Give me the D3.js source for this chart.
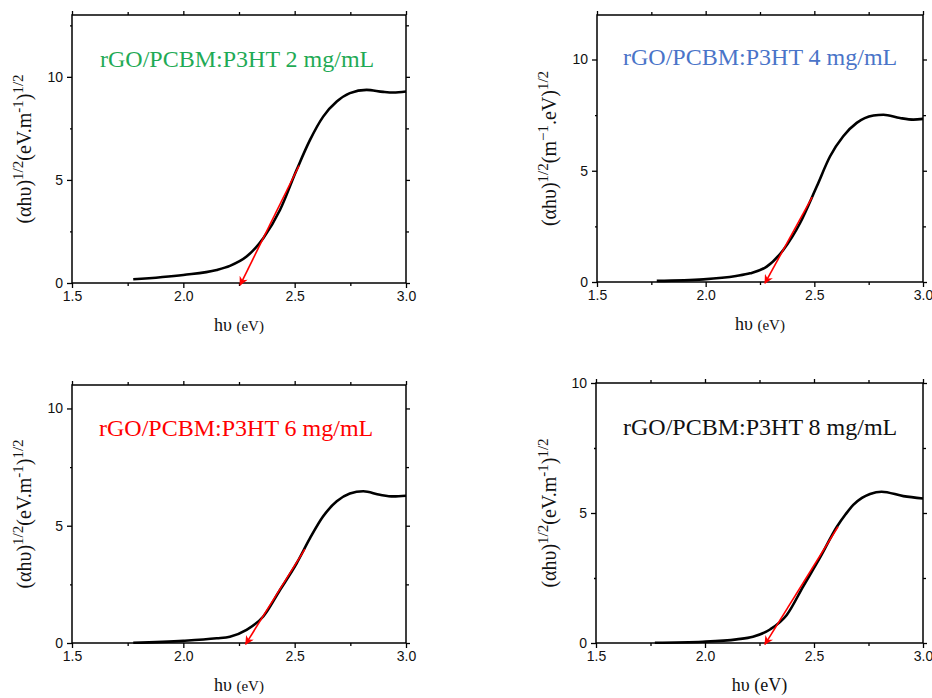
<!DOCTYPE html>
<html>
<head>
<meta charset="utf-8">
<script src="https://cdn.jsdelivr.net/npm/d3@7"></script>
<style>
  body { margin: 0; background: #fff; }
  svg { display: block; }
  .tick text { font-family: Arial, "Liberation Sans", sans-serif; font-size: 14px; fill: #111; }
  .axis path, .axis line { stroke: #000; stroke-width: 1.3px; }
</style>
</head>
<body>
<div id="chart"></div>
<script>
// data (photon energy in eV vs (alpha h nu)^1/2)
var energy1 = [1.775, 2.0, 2.15, 2.209, 2.284, 2.359, 2.434, 2.509, 2.569, 2.628, 2.689, 2.748, 2.823, 2.898, 2.943, 3.0];
var value1  = [0.18, 0.39, 0.63, 0.83, 1.28, 2.17, 3.54, 5.49, 6.94, 8.07, 8.80, 9.21, 9.37, 9.27, 9.24, 9.29];

var energy2 = [1.775, 1.99, 2.14, 2.204, 2.281, 2.357, 2.434, 2.511, 2.572, 2.633, 2.695, 2.772, 2.818, 2.894, 2.956, 3.0];
var value2  = [0.05, 0.12, 0.27, 0.39, 0.69, 1.44, 2.64, 4.29, 5.64, 6.55, 7.15, 7.48, 7.52, 7.37, 7.30, 7.33];

var energy3 = [1.775, 2.0, 2.15, 2.209, 2.284, 2.359, 2.434, 2.509, 2.569, 2.628, 2.689, 2.748, 2.808, 2.883, 2.943, 3.0];
var value3  = [0.01, 0.09, 0.20, 0.27, 0.56, 1.13, 2.26, 3.40, 4.47, 5.40, 6.04, 6.37, 6.47, 6.32, 6.25, 6.28];

var energy4 = [1.77, 1.99, 2.145, 2.22, 2.30, 2.375, 2.45, 2.53, 2.605, 2.645, 2.68, 2.72, 2.757, 2.81, 2.91, 3.0];
var value4  = [0.01, 0.05, 0.14, 0.24, 0.53, 1.08, 2.17, 3.32, 4.47, 4.95, 5.31, 5.58, 5.73, 5.82, 5.65, 5.56];

// tangent lines (start point, arrow tip on the energy axis)
var tangentX1 = [2.52, 2.255], tangentY1 = [5.7, -0.1];
var tangentX2 = [2.49, 2.273], tangentY2 = [3.81, -0.05];
var tangentX3 = [2.546, 2.28], tangentY3 = [4.0, -0.05];
var tangentX4 = [2.61, 2.275], tangentY4 = [4.47, -0.05];

var titles = ["rGO/PCBM:P3HT 2 mg/mL", "rGO/PCBM:P3HT 4 mg/mL", "rGO/PCBM:P3HT 6 mg/mL", "rGO/PCBM:P3HT 8 mg/mL"];
var titleColors = ["#1faa55", "#4a74c8", "#ff0000", "#111111"];
var yMaxes = [13, 12, 11, 10];
var xTicks = [1.5, 2.0, 2.5, 3.0];
var xMinor = [1.75, 2.25, 2.75];
var yTicks = [0, 5, 10];
var yUnits = ["eV.m", "m", "eV.m", "eV.m"];

var series = [
  {e: energy1, v: value1, tx: tangentX1, ty: tangentY1},
  {e: energy2, v: value2, tx: tangentX2, ty: tangentY2},
  {e: energy3, v: value3, tx: tangentX3, ty: tangentY3},
  {e: energy4, v: value4, tx: tangentX4, ty: tangentY4}
];

// panel boxes in pixels
var boxes = [
  {left: 72,  right: 406, top: 15,  bottom: 283, labX: 24,  titleX: 100, titleY: 67},
  {left: 597, right: 923, top: 15,  bottom: 282, labX: 549, titleX: 623, titleY: 65},
  {left: 72,  right: 406, top: 385, bottom: 643, labX: 24,  titleX: 99,  titleY: 436},
  {left: 596, right: 923, top: 383, bottom: 643, labX: 549, titleX: 623, titleY: 435}
];

var svg = d3.select("#chart").append("svg")
    .attr("width", 932)
    .attr("height", 698);

var defs = svg.append("defs");
defs.append("marker")
    .attr("id", "arrow")
    .attr("viewBox", "0 0 10 10")
    .attr("refX", 9)
    .attr("refY", 5)
    .attr("markerWidth", 11)
    .attr("markerHeight", 9)
    .attr("markerUnits", "userSpaceOnUse")
    .attr("orient", "auto")
  .append("path")
    .attr("d", "M0,0 L10,5 L0,10 L3,5 Z")
    .attr("fill", "#ff0000");

boxes.forEach(function(b, i) {
    var x = d3.scaleLinear().domain([1.5, 3.0]).range([b.left, b.right]);
    var y = d3.scaleLinear().domain([0, yMaxes[i]]).range([b.bottom, b.top]);

    var yMinor = d3.range(2.5, yMaxes[i], 5);

    var g = svg.append("g");

    // minor ticks (all four sides)
    g.append("g").attr("class", "axis")
        .attr("transform", "translate(0," + b.bottom + ")")
        .call(d3.axisBottom(x).tickValues(xMinor).tickSize(3).tickFormat(""));
    g.append("g").attr("class", "axis")
        .attr("transform", "translate(0," + b.top + ")")
        .call(d3.axisTop(x).tickValues(xMinor).tickSize(3).tickFormat(""));
    g.append("g").attr("class", "axis")
        .attr("transform", "translate(" + b.left + ",0)")
        .call(d3.axisLeft(y).tickValues(yMinor).tickSize(2).tickFormat(""));
    g.append("g").attr("class", "axis")
        .attr("transform", "translate(" + b.right + ",0)")
        .call(d3.axisRight(y).tickValues(yMinor).tickSize(3).tickFormat(""));

    // major ticks
    g.append("g").attr("class", "axis")
        .attr("transform", "translate(0," + b.bottom + ")")
        .call(d3.axisBottom(x).tickValues(xTicks).tickSize(5).tickPadding(3).tickFormat(d3.format(".1f")));
    g.append("g").attr("class", "axis")
        .attr("transform", "translate(0," + b.top + ")")
        .call(d3.axisTop(x).tickValues(xTicks).tickSize(4).tickFormat(""));
    g.append("g").attr("class", "axis")
        .attr("transform", "translate(" + b.left + ",0)")
        .call(d3.axisLeft(y).tickValues(yTicks).tickSize(5).tickPadding(4).tickFormat(d3.format("d")));
    g.append("g").attr("class", "axis")
        .attr("transform", "translate(" + b.right + ",0)")
        .call(d3.axisRight(y).tickValues(yTicks).tickSize(4).tickFormat(""));

    g.selectAll(".axis .domain").remove();

    // frame
    g.append("rect")
        .attr("x", b.left).attr("y", b.top)
        .attr("width", b.right - b.left).attr("height", b.bottom - b.top)
        .attr("fill", "none").attr("stroke", "#000").attr("stroke-width", 1.5);

    var s = series[i];
    var pts = s.e.map(function(e, k) { return [e, s.v[k]]; });

    var line = d3.line()
        .x(function(d) { return x(d[0]); })
        .y(function(d) { return y(d[1]); })
        .curve(d3.curveMonotoneX);

    g.append("path")
        .datum(pts)
        .attr("d", line)
        .attr("fill", "none")
        .attr("stroke", "#000")
        .attr("stroke-width", 2.6);

    // tangent arrow
    g.append("line")
        .attr("x1", x(s.tx[0])).attr("y1", y(s.ty[0]))
        .attr("x2", x(s.tx[1])).attr("y2", y(s.ty[1]))
        .attr("stroke", "#ff0000")
        .attr("stroke-width", 1.6)
        .attr("marker-end", "url(#arrow)");

    // title inside plot
    g.append("text")
        .attr("x", b.titleX).attr("y", b.titleY)
        .attr("font-family", "'Times New Roman', 'Liberation Serif', serif")
        .attr("font-size", 24)
        .attr("fill", titleColors[i])
        .text(titles[i]);

    // x label
    var xl = g.append("text")
        .attr("x", (b.left + b.right) / 2)
        .attr("y", b.bottom + 48)
        .attr("text-anchor", "middle")
        .attr("font-family", "'Times New Roman', 'Liberation Serif', serif")
        .attr("fill", "#111");
    xl.append("tspan").attr("font-size", 18).text("hυ ");
    xl.append("tspan").attr("font-size", i == 3 ? 18 : 15).text("(eV)");

    // y label
    var yl = g.append("text")
        .attr("transform", "translate(" + (b.labX + 7) + "," + ((b.top + b.bottom) / 2) + ") rotate(-90)")
        .attr("text-anchor", "middle")
        .attr("font-family", "'Times New Roman', 'Liberation Serif', serif")
        .attr("font-size", 20)
        .attr("fill", "#111");
    yl.append("tspan").text("(αhυ)");
    yl.append("tspan").attr("font-size", 15).attr("dy", -8).text("1/2");
    if (yUnits[i] == "m") {
        yl.append("tspan").attr("dy", 8).text("(m");
        yl.append("tspan").attr("font-size", 15).attr("dy", -8).text("−1");
        yl.append("tspan").attr("dy", 8).text(".eV)");
    } else {
        yl.append("tspan").attr("dy", 8).text("(eV.m");
        yl.append("tspan").attr("font-size", 15).attr("dy", -8).text("-1");
        yl.append("tspan").attr("dy", 8).text(")");
    }
    yl.append("tspan").attr("font-size", 15).attr("dy", -8).text("1/2");
});
</script>
</body>
</html>
